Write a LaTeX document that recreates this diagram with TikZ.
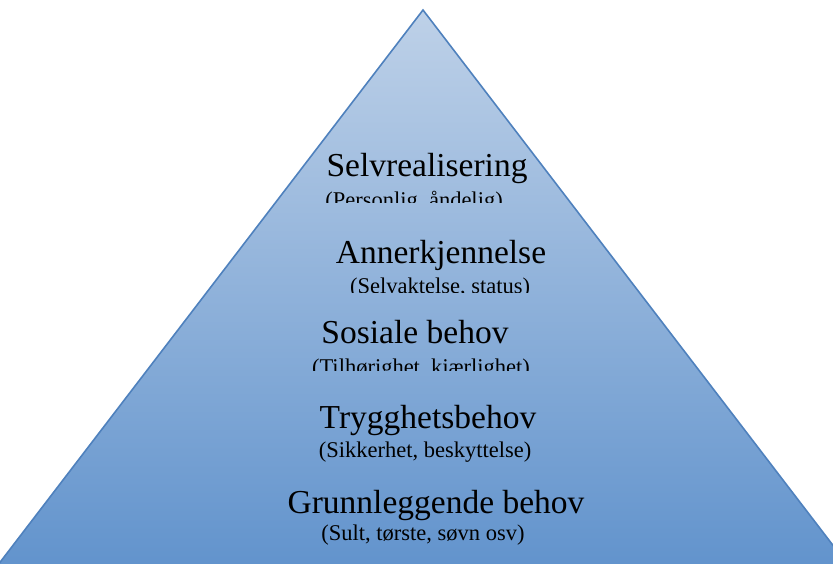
\documentclass[tikz,border=0pt]{standalone}
\usepackage{fontspec}
\setmainfont{Liberation Serif}
\definecolor{pyrtop}{RGB}{190,209,232}
\definecolor{pyrbot}{RGB}{96,146,204}
\definecolor{pyredge}{RGB}{79,129,189}
\begin{document}
\begin{tikzpicture}[x=1pt,y=-1pt,
  title/.style={anchor=base,inner sep=0pt,font=\fontsize{33.5}{36}\selectfont,text=black},
  sub/.style={anchor=base,inner sep=0pt,font=\fontsize{22.5}{25}\selectfont,text=black}]
\useasboundingbox (0,0) rectangle (833,563);
\clip (0,0) rectangle (833,563);
\coordinate (apex) at (423,10);
\coordinate (bl) at (-12,578);
\coordinate (br) at (858,578);
\shade[top color=pyrtop,bottom color=pyrbot,draw=pyredge,line width=1.6pt,line join=miter]
  (apex) -- (br) -- (bl) -- cycle;
\node[title] (t1) at (427,176) {Selvrealisering};
\begin{scope}
\clip (0,0) rectangle (833,202);
\node[sub] (s1) at (414,207) {(Personlig, åndelig)};
\end{scope}
\node[title] (t2) at (441,263) {Annerkjennelse};
\begin{scope}
\clip (0,0) rectangle (833,292);
\node[sub] (s2) at (440,293) {(Selvaktelse, status)};
\end{scope}
\node[title] (t3) at (415,343) {Sosiale behov};
\begin{scope}
\clip (0,0) rectangle (833,370);
\node[sub] (s3) at (421,374) {(Tilhørighet, kjærlighet)};
\end{scope}
\node[title] (t4) at (428,428) {Trygghetsbehov};
\node[sub] (s4) at (425,457) {(Sikkerhet, beskyttelse)};
\node[title] (t5) at (436,513) {Grunnleggende behov};
\node[sub] (s5) at (423,540) {(Sult, tørste, søvn osv)};
\end{tikzpicture}
\end{document}
